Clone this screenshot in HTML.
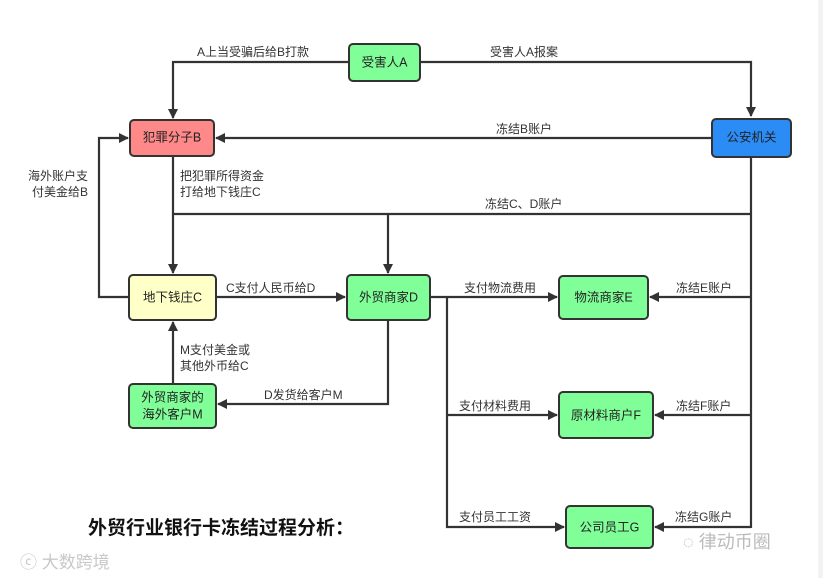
<!DOCTYPE html>
<html><head><meta charset="utf-8"><style>
html,body{margin:0;padding:0;background:#fff;}
svg{display:block;font-family:"Liberation Sans","Noto Sans CJK SC",sans-serif;}
.l{stroke:#333;stroke-width:2.2;fill:none;}
.b{stroke:#333;stroke-width:2;}
.t{font-size:12px;fill:#333;}
.n{font-size:12.5px;fill:#222;text-anchor:middle;dominant-baseline:middle;}
</style></head><body>
<svg width="823" height="578" viewBox="0 0 823 578">
<defs><marker id="a" markerWidth="10" markerHeight="10" refX="9" refY="5" orient="auto" markerUnits="userSpaceOnUse"><path d="M0,0 L10,5 L0,10 Z" fill="#333"/></marker></defs>
<rect x="818" y="0" width="5" height="578" fill="#f2f2f2"/>
<!-- connectors -->
<path class="l" d="M349,62 H173 V118" marker-end="url(#a)"/>
<path class="l" d="M420,62 H751 V116" marker-end="url(#a)"/>
<path class="l" d="M712,138 H216" marker-end="url(#a)"/>
<path class="l" d="M173,156 V273" marker-end="url(#a)"/>
<path class="l" d="M173,214 H751"/>
<path class="l" d="M388,214 V273" marker-end="url(#a)"/>
<path class="l" d="M751,157 V528"/>
<path class="l" d="M129,297 H99 V138 H128" marker-end="url(#a)"/>
<path class="l" d="M216,297 H345" marker-end="url(#a)"/>
<path class="l" d="M173,383 V322" marker-end="url(#a)"/>
<path class="l" d="M388,320 V404 H218" marker-end="url(#a)"/>
<path class="l" d="M430,297 H557" marker-end="url(#a)"/>
<path class="l" d="M447,297 V527 H564" marker-end="url(#a)"/>
<path class="l" d="M447,415 H557" marker-end="url(#a)"/>
<path class="l" d="M751,297 H650" marker-end="url(#a)"/>
<path class="l" d="M751,415 H655" marker-end="url(#a)"/>
<path class="l" d="M751,527 H655" marker-end="url(#a)"/>
<!-- nodes -->
<rect class="b" x="349" y="44" width="71" height="37" rx="4" fill="#80ff99"/>
<text class="n" x="384.5" y="63">受害人A</text>
<rect class="b" x="130" y="120" width="84" height="36" rx="4" fill="#ff8888"/>
<text class="n" x="172" y="138">犯罪分子B</text>
<rect class="b" x="712" y="119" width="79" height="38" rx="4" fill="#2b8cf5"/>
<text class="n" x="751.5" y="138">公安机关</text>
<rect class="b" x="129" y="275" width="87" height="45" rx="4" fill="#ffffc8"/>
<text class="n" x="172.5" y="298">地下钱庄C</text>
<rect class="b" x="347" y="275" width="83" height="45" rx="4" fill="#80ff99"/>
<text class="n" x="388.5" y="298">外贸商家D</text>
<rect class="b" x="559" y="276" width="89" height="43" rx="4" fill="#80ff99"/>
<text class="n" x="603.5" y="298">物流商家E</text>
<rect class="b" x="129" y="384" width="87" height="44" rx="4" fill="#80ff99"/>
<text class="n" x="172.5" y="398">外贸商家的</text>
<text class="n" x="172.5" y="415">海外客户M</text>
<rect class="b" x="559" y="392" width="94" height="46" rx="4" fill="#80ff99"/>
<text class="n" x="606" y="416">原材料商户F</text>
<rect class="b" x="566" y="506" width="87" height="42" rx="4" fill="#80ff99"/>
<text class="n" x="609.5" y="528">公司员工G</text>
<!-- labels -->
<text class="t" x="197" y="56">A上当受骗后给B打款</text>
<text class="t" x="490" y="56">受害人A报案</text>
<text class="t" x="496" y="133">冻结B账户</text>
<text class="t" x="180" y="180">把犯罪所得资金</text>
<text class="t" x="180" y="196">打给地下钱庄C</text>
<text class="t" x="485" y="208">冻结C、D账户</text>
<text class="t" x="28" y="180">海外账户支</text>
<text class="t" x="32" y="196">付美金给B</text>
<text class="t" x="226" y="292">C支付人民币给D</text>
<text class="t" x="464" y="292">支付物流费用</text>
<text class="t" x="676" y="292">冻结E账户</text>
<text class="t" x="180" y="354">M支付美金或</text>
<text class="t" x="180" y="370">其他外币给C</text>
<text class="t" x="264" y="399">D发货给客户M</text>
<text class="t" x="459" y="410">支付材料费用</text>
<text class="t" x="676" y="410">冻结F账户</text>
<text class="t" x="459" y="521">支付员工工资</text>
<text class="t" x="675" y="521">冻结G账户</text>
<text x="88" y="534" style="font-size:19px;font-weight:bold;fill:#111;">外贸行业银行卡冻结过程分析：</text>
<text x="20" y="568" style="font-size:17px;fill:#c8c8c8;">ⓒ 大数跨境</text>
<text x="683" y="548" style="font-size:18px;fill:#bbb;">◌ 律动币圈</text>
</svg>
</body></html>
